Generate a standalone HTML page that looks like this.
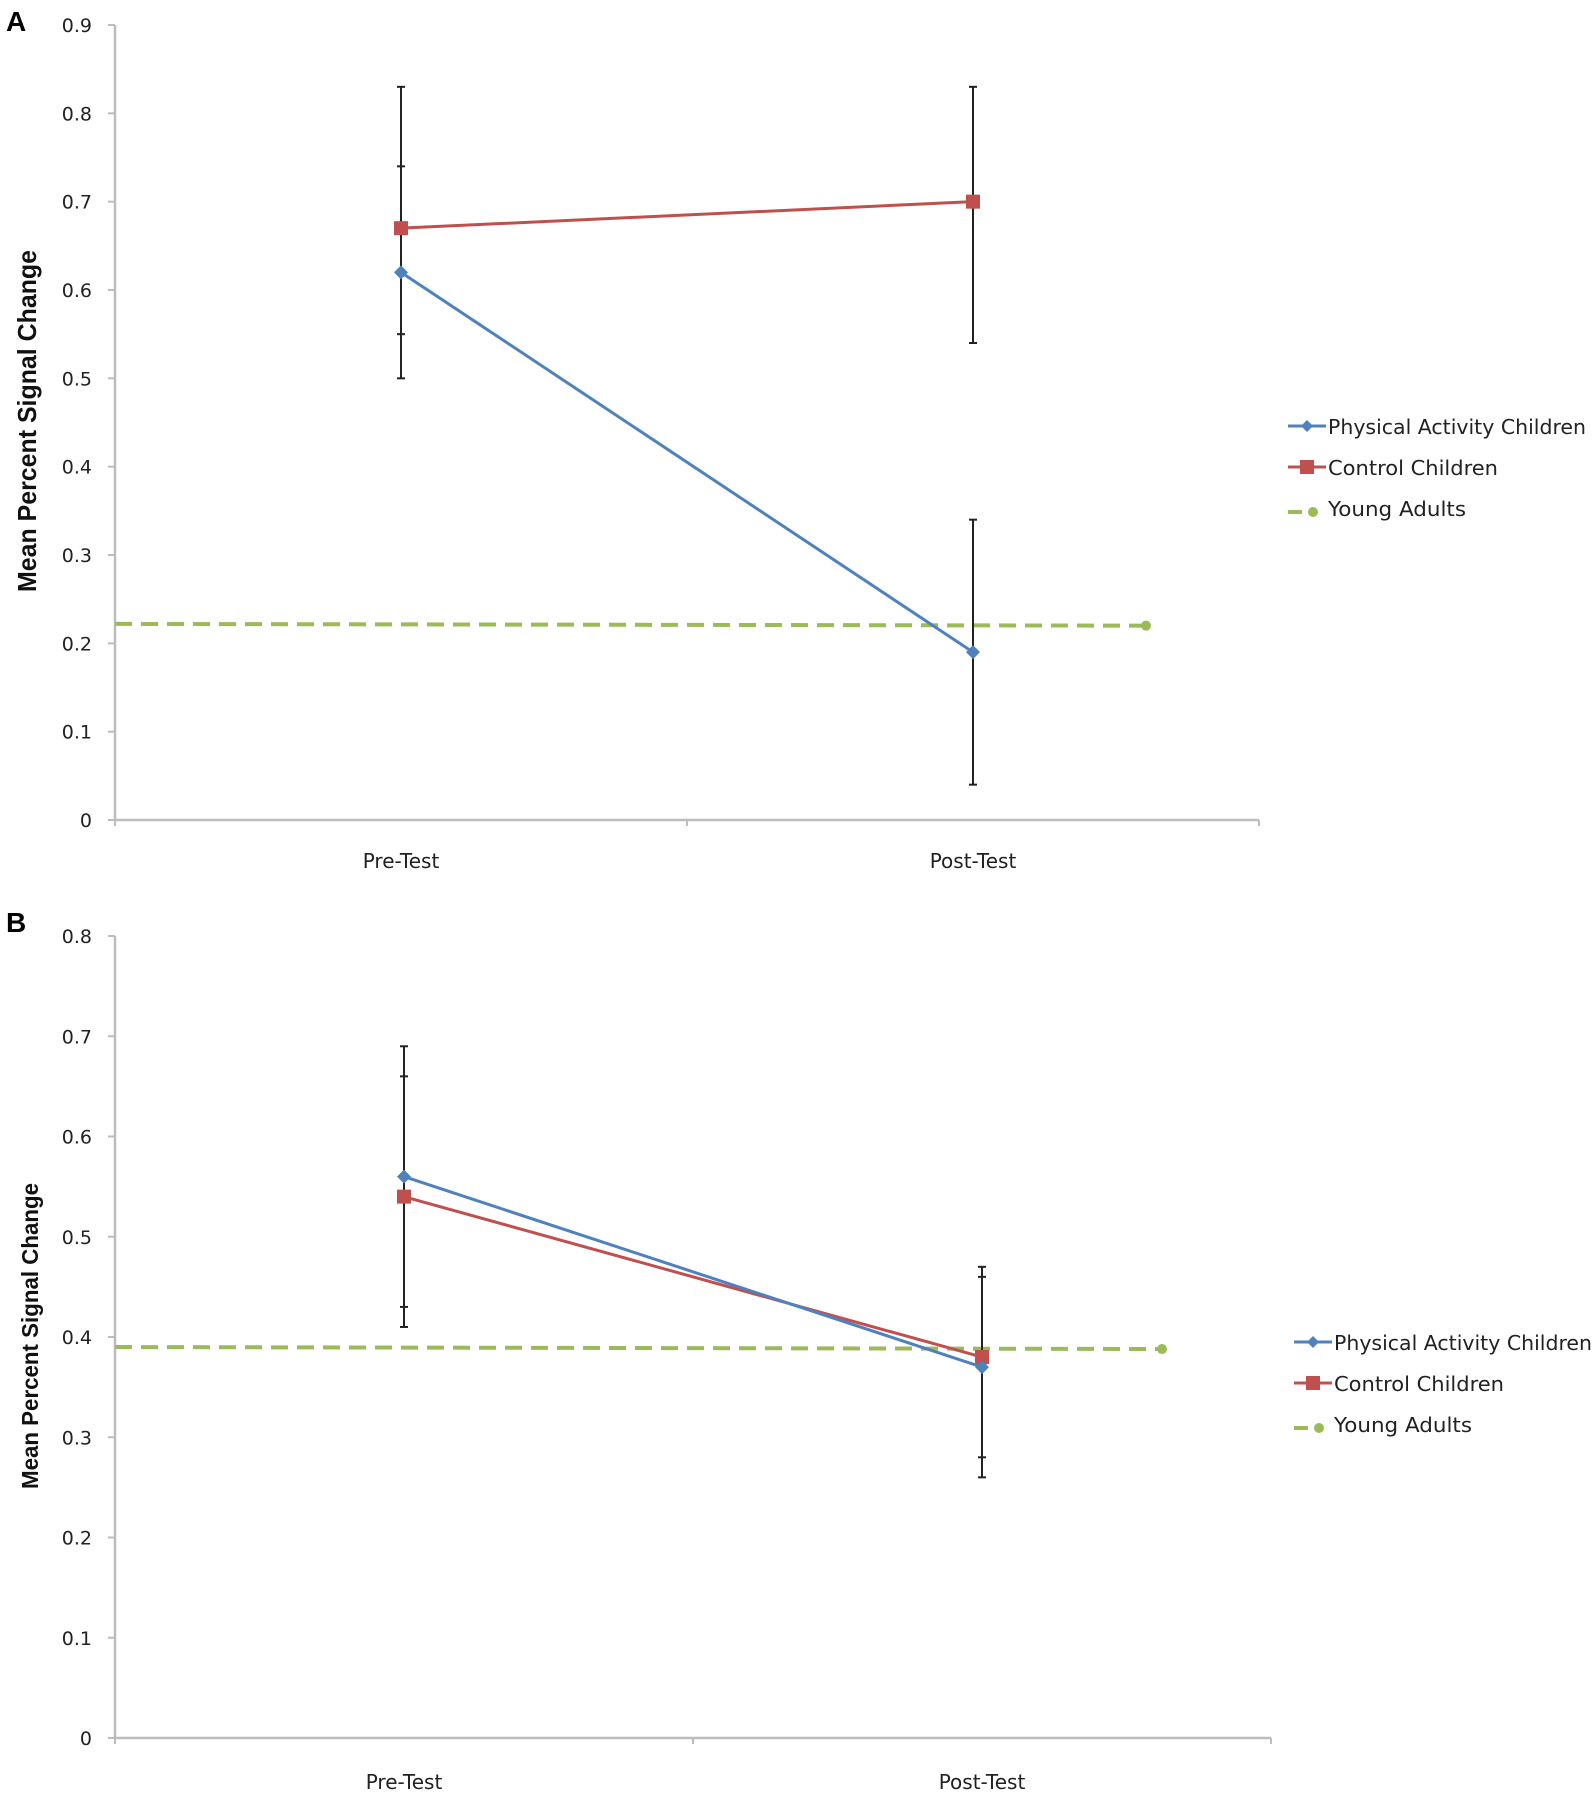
<!DOCTYPE html>
<html><head><meta charset="utf-8"><style>
html,body{margin:0;padding:0;background:#fff}
svg{display:block}
</style></head><body>
<svg id="chart" width="1596" height="1796" viewBox="0 0 1596 1796" xmlns="http://www.w3.org/2000/svg">
<text x="6" y="31" font-family="Liberation Sans, sans-serif" font-weight="bold" font-size="28">A</text>
<text x="6" y="932" font-family="Liberation Sans, sans-serif" font-weight="bold" font-size="28">B</text>
</svg>
<script>
const categories = ["Pre-Test", "Post-Test"];
const seriesNames = ["Physical Activity Children", "Control Children", "Young Adults"];
// Panel A
const aTicks = [0,0.1,0.2,0.3,0.4,0.5,0.6,0.7,0.8,0.9];
const aPA = [0.62, 0.19];
const aPAlo = [0.50, 0.04];
const aPAhi = [0.74, 0.34];
const aCtl = [0.67, 0.70];
const aCtllo = [0.55, 0.54];
const aCtlhi = [0.83, 0.83];
const aYoung = [0.222, 0.22];
// Panel B
const bTicks = [0,0.1,0.2,0.3,0.4,0.5,0.6,0.7,0.8];
const bPA = [0.56, 0.37];
const bPAlo = [0.43, 0.28];
const bPAhi = [0.66, 0.46];
const bCtl = [0.54, 0.38];
const bCtllo = [0.41, 0.26];
const bCtlhi = [0.69, 0.47];
const bYoung = [0.39, 0.388];

const NS = "http://www.w3.org/2000/svg";
const svg = document.getElementById("chart");
function mk(tag, attrs, parent){
  const e = document.createElementNS(NS, tag);
  for (const k in attrs) e.setAttribute(k, attrs[k]);
  (parent||svg).appendChild(e);
  return e;
}
const BLUE="#4f81bd", RED="#c0504d", GREEN="#9bbb59";
const legendLens = [258, 170, 138];

function panel(p){
  const g = mk("g", {});
  
  
  const yMax = p.ticks[p.ticks.length-1];
  const Y = v => p.y0 - (v / yMax) * (p.y0 - p.y1);
  const band = (p.x1 - p.x0) / categories.length;
  const X = i => p.x0 + band * (i + 0.5);
  const ya = mk("line", {x1:p.x0, y1:p.y1, x2:p.x0, y2:p.y0, stroke:"#bdbdbd", "stroke-width":2.5}, g);
  
  
  const xa = mk("line", {x1:p.x0, y1:p.y0, x2:p.x1, y2:p.y0, stroke:"#bdbdbd", "stroke-width":2.5}, g);
  
  
  p.ticks.forEach(t => {
    const y = Y(t);
    mk("line", {x1:p.x0-7, y1:y, x2:p.x0, y2:y, stroke:"#bdbdbd", "stroke-width":2}, g);
    const tx = mk("text", {x:p.x0-23, y:y+7, "text-anchor":"end", "font-family":"DejaVu Sans, sans-serif", "font-size":19, fill:"#222"}, g);
    tx.textContent = String(t);
    
    
  });
  for (let i=0;i<=categories.length;i++){
    const x = p.x0 + band*i;
    mk("line", {x1:x, y1:p.y0, x2:x, y2:p.y0+6, stroke:"#bdbdbd", "stroke-width":2}, g);
  }
  categories.forEach((c,i) => {
    const t = mk("text", {x:X(i), y:p.xl, "text-anchor":"middle", "font-family":"DejaVu Sans, sans-serif", "font-size":20, fill:"#222"}, g);
    t.textContent = c;
    
    
  });
  const yt = mk("text", {x:0, y:0, transform:`translate(${p.tx},${p.tcy}) rotate(-90)`, "text-anchor":"middle", "font-family":"Liberation Sans Narrow, Liberation Sans, sans-serif", "font-weight":"bold", "font-size":p.tfs, textLength:p.tlen, lengthAdjust:"spacingAndGlyphs", fill:"#111"}, g);
  yt.textContent = "Mean Percent Signal Change";
  
  
  const yl = mk("line", {x1:p.x0, y1:Y(p.young[0]), x2:p.yEnd, y2:Y(p.young[1]), stroke:GREEN, "stroke-width":4, "stroke-dasharray":"17,9"}, g);
  
  
  const yd = mk("circle", {cx:p.yEnd, cy:Y(p.young[1]), r:5, fill:GREEN}, g);
  
  
  [[p.paLo,p.paHi],[p.cLo,p.cHi]].forEach(([lo,hi]) => {
    categories.forEach((c,i) => {
      const x = X(i);
      const eb = mk("line", {x1:x, y1:Y(lo[i]), x2:x, y2:Y(hi[i]), stroke:"#222", "stroke-width":2}, g);
      
      
      mk("line", {x1:x-4, y1:Y(lo[i]), x2:x+4, y2:Y(lo[i]), stroke:"#222", "stroke-width":2}, g);
      mk("line", {x1:x-4, y1:Y(hi[i]), x2:x+4, y2:Y(hi[i]), stroke:"#222", "stroke-width":2}, g);
    });
  });
  const cl = mk("polyline", {points:p.ctl.map((v,i)=>X(i)+","+Y(v)).join(" "), fill:"none", stroke:RED, "stroke-width":3}, g);
  
  
  p.ctl.forEach((v,i) => {
    const m = mk("rect", {x:X(i)-7, y:Y(v)-7, width:14, height:14, fill:RED}, g);
    
    
  });
  const pl = mk("polyline", {points:p.pa.map((v,i)=>X(i)+","+Y(v)).join(" "), fill:"none", stroke:BLUE, "stroke-width":3}, g);
  
  
  p.pa.forEach((v,i) => {
    const x=X(i), y=Y(v);
    const m = mk("polygon", {points:`${x},${y-7} ${x+7},${y} ${x},${y+7} ${x-7},${y}`, fill:BLUE}, g);
    
    
  });
  const lx = p.lx, ly = p.ly, gap = p.lgap;
  const lg = mk("g", {}, g);
  
  
  mk("line", {x1:lx, y1:ly, x2:lx+38, y2:ly, stroke:BLUE, "stroke-width":3}, lg);
  mk("polygon", {points:`${lx+19},${ly-6} ${lx+25},${ly} ${lx+19},${ly+6} ${lx+13},${ly}`, fill:BLUE}, lg);
  mk("line", {x1:lx, y1:ly+gap, x2:lx+38, y2:ly+gap, stroke:RED, "stroke-width":3}, lg);
  mk("rect", {x:lx+12, y:ly+gap-7, width:14, height:14, fill:RED}, lg);
  mk("line", {x1:lx, y1:ly+2*gap+4, x2:lx+14, y2:ly+2*gap+4, stroke:GREEN, "stroke-width":4}, lg);
  mk("circle", {cx:lx+25, cy:ly+2*gap+4, r:5, fill:GREEN}, lg);
  seriesNames.forEach((n,k) => {
    const t = mk("text", {x:lx+40, y:ly+k*gap+8, "font-family":"DejaVu Sans, sans-serif", "font-size":20, textLength:legendLens[k], lengthAdjust:"spacingAndGlyphs", fill:"#222"}, lg);
    t.textContent = n;
    
    
  });
}

panel({name:"panel-a", ticks:aTicks, x0:115, x1:1259, y0:820, y1:25, xl:868,
  pa:aPA, paLo:aPAlo, paHi:aPAhi, ctl:aCtl, cLo:aCtllo, cHi:aCtlhi, young:aYoung, yEnd:1146,
  tx:36, tcy:421, tfs:26, tlen:342, lx:1288, ly:426, lgap:41});
panel({name:"panel-b", ticks:bTicks, x0:115, x1:1271, y0:1738, y1:936, xl:1789,
  pa:bPA, paLo:bPAlo, paHi:bPAhi, ctl:bCtl, cLo:bCtllo, cHi:bCtlhi, young:bYoung, yEnd:1162,
  tx:38, tcy:1336, tfs:23, tlen:306, lx:1294, ly:1342, lgap:41});
</script>
</body></html>
